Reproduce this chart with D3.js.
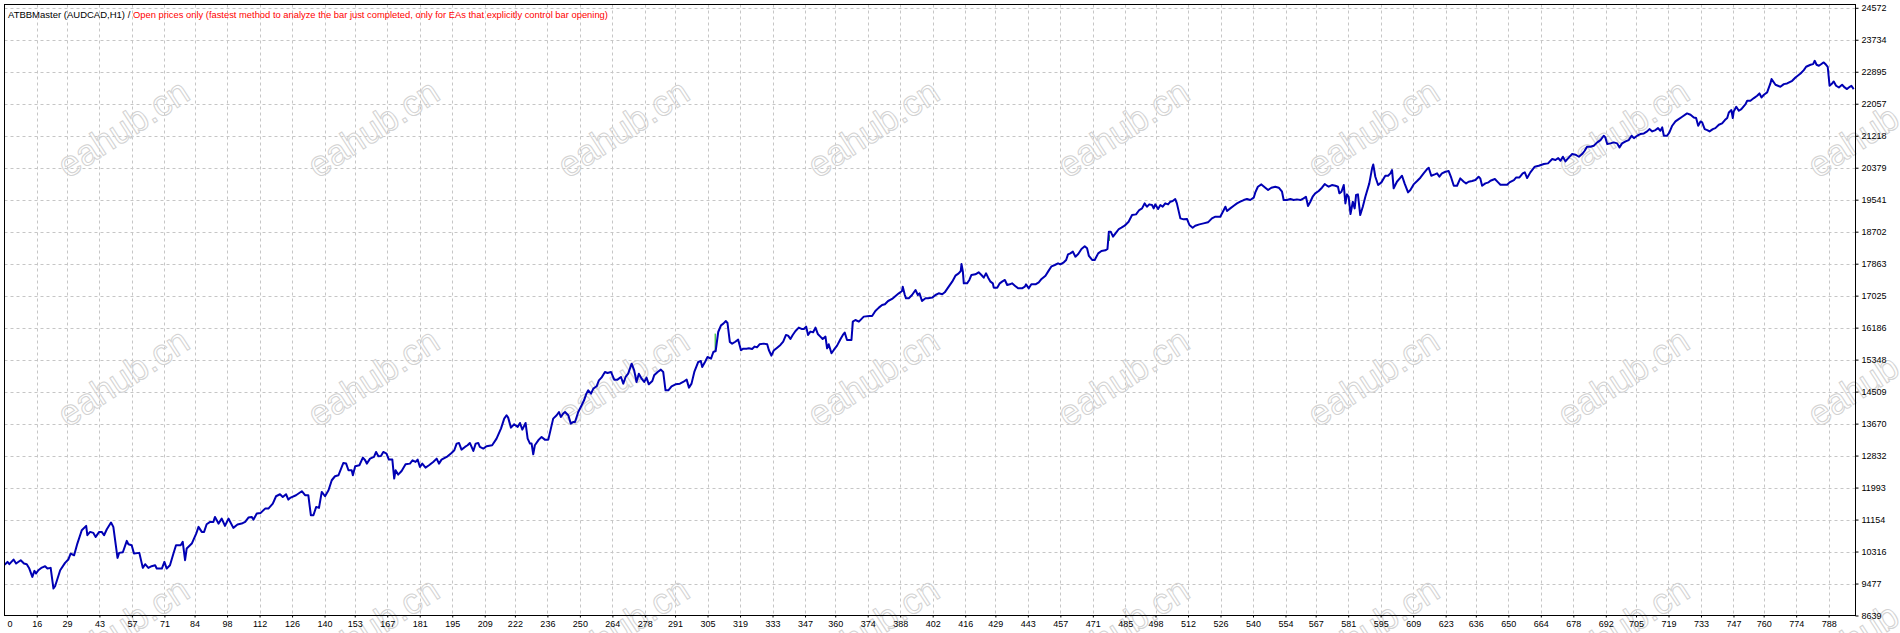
<!DOCTYPE html>
<html>
<head>
<meta charset="utf-8">
<script src="https://cdn.jsdelivr.net/npm/d3@7"></script>
<style>
html, body { margin: 0; padding: 0; background: #fff; }
svg { display: block; font-family: "Liberation Sans", Arial, sans-serif; }
</style>
</head>
<body>
<div id="chart"></div>
<script>
// header texts
var titleExpert = "ATBBMaster (AUDCAD,H1)";
var titleMode = "Open prices only (fastest method to analyze the bar just completed, only for EAs that explicitly control bar opening)";
var watermarkText = "eahub.cn";

// axis labels as printed by the tester
var xTickLabels = [0, 16, 29, 43, 57, 71, 84, 98, 112, 126, 140, 153, 167, 181, 195, 209, 222, 236, 250, 264,
    278, 291, 305, 319, 333, 347, 360, 374, 388, 402, 416, 429, 443, 457, 471, 485, 498, 512, 526, 540,
    554, 567, 581, 595, 609, 623, 636, 650, 664, 678, 692, 705, 719, 733, 747, 760, 774, 788];
var yTickLabels = [8639, 9477, 10316, 11154, 11993, 12832, 13670, 14509, 15348, 16186, 17025,
    17863, 18702, 19541, 20379, 21218, 22057, 22895, 23734, 24572];

// balance curve: [trade number, balance]
var balance = [
  [0,10000],[2.4,9984],[3.4,10045],[4.2,9984],[6,10106],[7.1,10001],[9.1,10088],[10.5,10001],[11.7,9984],
  [12.8,9870],[14.1,9652],[15,9809],[15.7,9739],[16.7,9826],[18.2,9896],[19.6,9931],[20.6,9870],[22,9888],
  [23.2,9346],[23.9,9407],[26.1,9826],[28.2,10019],[29.6,10106],[30.6,10263],[32.1,10219],[33.5,10525],
  [35.4,10875],[37.3,10988],[37.8,10744],[39,10831],[40.4,10805],[41.4,10700],[42.9,10831],[44,10831],
  [45,10744],[46.2,10901],[48,11075],[49,10962],[50.8,10150],[51.5,10281],[53.1,10298],[54.8,10595],
  [55.5,10508],[56.9,10482],[57.9,10263],[60.2,10281],[61.7,9888],[62.7,9984],[64.1,9888],[65.5,9931],
  [67,9957],[67.7,9870],[69.9,9870],[71,10045],[72,9870],[73.4,9957],[74.9,10263],[76,10482],[78,10482],
  [78.9,10569],[79.9,10088],[80.6,10394],[82.8,10525],[84.7,10787],[85.7,10962],[87.1,10831],[88.1,10831],
  [89.2,11032],[90.7,11093],[92.1,11093],[92.8,11224],[94.3,11049],[95.7,11180],[97.1,10988],[98.6,11180],
  [100.7,10936],[102.5,11023],[104.3,11049],[105.8,11093],[107.2,11207],[108.6,11224],[109.4,11154],
  [110.8,11311],[112.5,11329],[114.4,11442],[115.8,11442],[117.7,11573],[119.1,11766],[120.8,11818],
  [122,11748],[123.4,11818],[124.4,11678],[125.4,11731],[127.7,11792],[130.2,11897],[131.6,11792],
  [133,11792],[134.1,11268],[135.2,11268],[136.4,11486],[137.6,11460],[138.8,11879],[140.2,11766],
  [141.7,11923],[143.1,12185],[144.5,12290],[146,12316],[148.1,12639],[149.3,12622],[150.3,12447],
  [151.7,12447],[152.2,12316],[153.2,12552],[155,12578],[156.5,12779],[157.5,12709],[158.2,12622],
  [159.6,12753],[161.3,12796],[162.2,12927],[163.2,12814],
  [164.3,12822],[165.3,12927],[166.7,12884],[167.7,12726],[169.2,12726],[170,12228],[170.6,12447],
  [171.7,12333],[173.2,12429],[174.9,12604],[176.8,12621],[177.9,12709],[179.2,12665],[180.1,12726],
  [181.1,12534],[182.1,12621],[183.5,12517],[185,12578],[186.8,12665],[188.3,12752],[189.3,12621],
  [190.4,12726],[193,12814],[194.7,12901],[195.9,12971],[196.9,13146],[197.9,13163],[199,12988],
  [200.5,13058],[201.6,13102],[202.6,13163],[204.1,12953],[205.1,13146],[206.2,13163],[206.9,13058],
  [208.4,13015],[209.8,13076],[212.2,13102],[214.1,13277],[216,13539],[217.4,13801],[218.4,13888],
  [219.1,13827],[220.3,13565],[221.7,13652],[223.2,13582],[224.2,13687],[225.2,13513],[226.6,13687],
  [227.5,13277],[228.5,13146],[229.2,13146],[229.9,12866],[230.6,13102],[232.3,13250],[233.5,13320],
  [234.9,13250],[236.4,13250],[237.5,13539],[238.5,13801],[240,13888],[241,13975],[241.8,13844],
  [242.8,13932],[243.6,13975],[245,13888],[246.1,13670],[247.1,13713],[247.9,13713],[249.3,13975],
  [250.4,14106],[251.8,14281],[252.8,14456],[253.6,14543],[254.8,14456],[255.8,14587],[257.2,14648],
  [258.2,14805],[259.3,14875],[260.8,15024],[261.9,14997],[263.4,15024],[264.8,14823],[266.2,14823],
  [267.7,14893],[268.7,14718],[269.7,14893],[270.8,14980],[272.3,15242],[273.4,15067],[274.4,14762],
  [275.4,14980],[276.6,14849],[277.7,14762],[278.7,14875],[279.7,14700],[281.2,14788],[282,14936],
  [283.5,15024],[284.9,15085],[285.9,15024],[286.9,14543],[288.1,14543],[289.5,14648],[291.2,14700],
  [293.1,14718],[294.5,14762],[296,14823],[297,14613],[298.1,14718],[299.3,15024],[301,15286],
  [302.1,15312],[302.7,15155],[303.9,15286],[305,15417],[306.5,15373],[307.5,15548],[308.5,15574],
  [309.6,16072],[310.8,16247],[311.8,16290],[312.9,16360],[313.6,16308],[314.6,15810],[315.6,15766],
  [316.8,15810],[318.2,15871],[319.4,15592],[320.4,15635],[321.8,15635],
  [322.8,15645],[324.2,15628],[325.3,15689],[326.3,15671],[327.4,15750],[329.2,15767],[330.7,15750],
  [331.4,15601],[332.5,15453],[333.5,15584],[335,15662],[336.4,15732],[337.6,15820],[338.8,15994],
  [339.7,15977],[340.7,15890],[341.7,15994],[342.9,16099],[344.3,16187],[345.5,16152],[346.5,16152],
  [347.5,16213],[348.3,15994],[349.3,16082],[350.5,16064],[351.5,16187],[352.5,16021],[353.6,15951],
  [354.6,15890],[355.8,15951],[356.5,15645],[357.2,15750],[358.4,15514],[359.4,15601],[360.8,15715],
  [362.3,15890],[363.3,15994],[364.1,16056],[365.1,15863],[367,15863],[367.6,16344],[368.7,16387],
  [370.2,16344],[372.3,16475],[374.7,16492],[375.9,16492],[377.3,16623],[378.8,16711],[380.2,16781],
  [381.4,16798],[382.8,16885],[384.5,16938],[386,17016],[387.4,17086],[388.8,17147],[389.1,17261],
  [390,17042],[390.5,16955],[391.7,16955],[393.1,17042],[394.6,17174],[395.6,17042],[396.3,17086],
  [397.4,16885],[398.9,16955],[400,16955],[401.8,16973],[403.2,17042],[404.6,17086],[406.1,17060],
  [407.2,17112],[408.9,17261],[410.4,17392],[411.8,17549],[413.2,17610],[414.1,17671],[414.4,17855],
  [415,17654],[415.4,17348],[416.8,17348],[417.8,17436],[418.7,17567],[420.4,17584],[421.8,17637],
  [423,17567],[424,17497],[425,17610],[425.9,17497],[426.9,17392],[427.9,17348],[428.3,17235],
  [429.8,17235],[430.9,17348],[431.9,17392],[433.1,17436],[434.1,17305],[435.2,17322],[436.2,17348],
  [437.4,17287],[438.8,17217],[440.5,17217],[441.7,17261],[442.2,17322],[443.4,17217],[444.5,17322],
  [446.3,17322],[447.7,17375],[448.9,17462],[450.6,17549],[451.7,17654],[453.2,17794],[454.6,17829],
  [456,17872],[457,17846],[458.5,17899],[459.5,17960],[460.3,18108],[461.3,18134],[462.4,18178],
  [463.5,18047],[464.7,18117],[466.1,18248],[467.5,18318],[468.5,18265],[469.3,18065],[470.7,17960],
  [471.8,17960],[473.3,18134],[474.7,18196],[476.4,18213],[477.3,18248],[477.9,18702],[478.7,18702],
  [479.7,18571],[481,18676],[482.2,18772],
  [483.3,18807],[484.7,18859],[486.4,18964],[487.9,19139],[489.6,19156],[491,19270],[492.2,19313],
  [493.3,19444],[494.3,19357],[495.3,19418],[496.5,19401],[497.2,19313],[497.9,19418],[499.1,19296],
  [500.1,19401],[501.1,19357],[502.2,19444],[503.4,19418],[504.4,19488],[505.4,19506],[506.5,19558],
  [507.2,19444],[508.7,19051],[510.1,19025],[511.6,19034],[512.6,18877],[514,18807],[515.1,18859],
  [516.9,18894],[518.7,18920],[520.6,18947],[522.3,19051],[523.8,19095],[525.9,19095],[527.4,19270],
  [528.1,19357],[528.8,19244],[530.2,19313],[531.7,19383],[533.1,19444],[534.5,19488],[536,19532],
  [537.4,19558],[538.8,19532],[540.3,19593],[541,19733],[542.1,19881],[543.6,19942],[545.3,19855],
  [546.5,19794],[547.9,19855],[549.6,19881],[551.1,19855],[552.5,19750],[553.2,19532],[554.6,19532],
  [556.1,19558],[557.5,19532],[558.9,19549],[560.4,19532],[561.8,19576],[562.8,19619],[563.7,19375],
  [564.7,19488],[565.7,19619],[566.8,19707],[568.3,19768],[569.7,19855],[570.9,19951],[571.9,19907],
  [572.6,19881],[574,19925],[575.5,19907],[576.6,19881],[577.2,19707],[578.1,19750],[579.1,19925],
  [579.8,19444],[580.5,19680],[581.2,19619],[582,19165],[583,19488],[583.8,19313],[584.4,19663],
  [585.2,19680],[586.2,19139],[587.3,19357],[588.4,19619],[590.1,19969],[591.3,20362],[591.8,20466],
  [592.7,20143],[593.9,19925],[595.3,19995],[597,20170],[598.2,20170],[599.2,20231],[599.9,20318],
  [600.6,19838],[602,20012],[603.5,20117],[604.2,20170],[605.3,19969],[606.8,19733],[607.8,19794],
  [609.2,19942],[610.7,20030],[612.1,20117],[613.5,20231],[615,20344],[615.7,20379],[616.8,20170],
  [618.3,20205],[619.3,20231],[620.3,20143],[621.4,20231],[622.9,20274],[624.3,20292],[625.4,20117],
  [626.5,19907],[627.9,19907],[629.3,20100],[630.8,20012],[631.8,19969],[632.9,20012],[634.4,20030],
  [635.8,20056],[637.2,20143],[637.9,20100],[638.7,19907],[640.1,19969],[641.5,19995],
  [642.3,20038],[644.2,20082],[645.6,19995],[646.6,19934],[649.5,19934],[650.5,19995],[652.4,20056],
  [653.4,20126],[654.8,20126],[656.2,20231],[657.1,20257],[658.1,20108],[659.5,20257],[661.4,20405],
  [663.1,20431],[665.3,20475],[667.1,20493],[668.9,20606],[670.3,20580],[671.5,20632],[672.5,20562],
  [673.5,20667],[674.6,20545],[676.1,20650],[677.5,20737],[678.9,20720],[680.4,20667],[681.8,20737],
  [682.9,20824],[683.9,20929],[685.4,20929],[686.8,20956],[688.3,21043],[689.7,21104],[691.1,21218],
  [691.8,21174],[692.6,21000],[694,21017],[695.4,21043],[696.9,21017],[697.9,20912],[699,21017],
  [700.5,21069],[701.9,21104],[703.1,21218],[704.1,21156],[705.5,21218],[706.9,21261],[708.4,21279],
  [709.8,21331],[710.8,21392],[712,21331],[713.4,21366],[714.5,21418],[715.5,21349],[716.3,21436],
  [717,21218],[718.4,21218],[719.4,21305],[720.6,21480],[722,21593],[723.4,21654],[724.9,21715],
  [727,21803],[728.5,21768],[729.9,21698],[730.9,21681],[731.8,21480],[732.8,21593],[733.5,21567],
  [734.6,21392],[735.7,21366],[736.7,21331],[738.1,21392],[739.2,21418],[740.7,21506],[742.1,21541],
  [743.3,21628],[744.3,21681],[745,21829],[746.1,21890],[746.7,21681],[747.1,21855],[748.2,21977],
  [749.3,21873],[750.4,21916],[752.2,22047],[752.9,22135],[754.3,22135],[755.8,22205],[757.2,22266],
  [758.2,22327],[759.1,22222],[760.1,22292],[761.5,22353],[762.9,22589],[763.4,22703],[765.1,22554],
  [767.2,22502],[768.7,22571],[770.1,22589],[772.3,22659],[773.7,22746],[775.9,22851],[777.3,22938],
  [778.3,23026],[780.2,23078],[781.3,23096],[782,23183],[782.8,23078],[783.8,23052],[785.2,23113],
  [785.9,23139],[786.9,23078],[787.6,23026],[788.4,22528],[789.5,22589],[790.2,22641],[791.2,22528],
  [792.4,22484],[793.8,22554],[794.9,22484],[795.9,22441],[797.1,22502],[797.8,22528],[798.8,22441]
];

// places where the green equity line shows beside the balance: [trade, low, high]
var equityGaps = [[308.3, 15560, 16030], [367.4, 16190, 16340], [478.1, 18460, 18610]];

var W = 1900, H = 633;
var plot = {left: 4.5, top: 4.5, right: 1855.5, bottom: 615.5};

var x = d3.scaleLinear().domain([0, 800]).range([-0.4, 1856.5]);
var y = d3.scaleLinear().domain([8639, 24572]).range([615.5, 7.8]);

var svg = d3.select("#chart").append("svg")
    .attr("width", W)
    .attr("height", H);

svg.append("rect").attr("width", W).attr("height", H).attr("fill", "#fff");

svg.append("defs").append("clipPath").attr("id", "plotClip")
  .append("rect")
    .attr("x", plot.left).attr("y", plot.top)
    .attr("width", plot.right - plot.left).attr("height", plot.bottom - plot.top);

// grid
var grid = svg.append("g").attr("stroke", "#c6c6c6").attr("stroke-dasharray", "3,3").attr("stroke-width", 1);
grid.selectAll(".vg")
    .data(xTickLabels.filter(function(d) { return d > 0; }))
    .enter().append("line")
    .attr("x1", function(d) { return Math.round(x(d)) + 0.5; })
    .attr("x2", function(d) { return Math.round(x(d)) + 0.5; })
    .attr("y1", plot.top).attr("y2", plot.bottom);
grid.selectAll(".hg")
    .data(yTickLabels.filter(function(d) { return d > 8639; }))
    .enter().append("line")
    .attr("y1", function(d) { return Math.round(y(d)) + 0.5; })
    .attr("y2", function(d) { return Math.round(y(d)) + 0.5; })
    .attr("x1", plot.left).attr("x2", plot.right);

// watermark tiles
var marks = svg.append("g")
    .attr("fill", "none")
    .attr("stroke", "#d2d2d2")
    .attr("stroke-width", 1)
    .attr("font-size", "36px")
    .attr("font-family", "'Liberation Sans', Arial, sans-serif");
for (var r = 0; r < 3; r++) {
  for (var c = 0; c < 8; c++) {
    var cx = 123 + 250 * c, cy = 128 + 249 * r;
    marks.append("text")
        .attr("transform", "translate(" + cx + "," + cy + ") rotate(-33)")
        .attr("text-anchor", "middle")
        .attr("dy", "0.35em")
        .text(watermarkText);
  }
}

// equity and balance lines
var line = d3.line()
    .x(function(d) { return x(d[0]); })
    .y(function(d) { return y(d[1]); });

var curves = svg.append("g").attr("clip-path", "url(#plotClip)");
curves.selectAll(".eq")
    .data(equityGaps)
    .enter().append("line")
    .attr("x1", function(d) { return x(d[0]); })
    .attr("x2", function(d) { return x(d[0]); })
    .attr("y1", function(d) { return y(d[1]); })
    .attr("y2", function(d) { return y(d[2]); })
    .attr("stroke", "#00b400")
    .attr("stroke-width", 1);

curves.append("path")
    .datum(balance)
    .attr("d", line)
    .attr("fill", "none")
    .attr("stroke", "#0000b4")
    .attr("stroke-width", 2)
    .attr("stroke-linejoin", "round");

// frame
svg.append("rect")
    .attr("x", plot.left).attr("y", plot.top)
    .attr("width", plot.right - plot.left).attr("height", plot.bottom - plot.top)
    .attr("fill", "none").attr("stroke", "#000").attr("stroke-width", 1);

// axes
var xAxis = svg.append("g")
    .attr("transform", "translate(0," + plot.bottom + ")")
    .call(d3.axisBottom(x).tickValues(xTickLabels).tickSize(2).tickPadding(3).tickFormat(d3.format("d")));
var yAxis = svg.append("g")
    .attr("transform", "translate(" + plot.right + ",0)")
    .call(d3.axisRight(y).tickValues(yTickLabels).tickSize(3).tickPadding(3).tickFormat(d3.format("d")));

[xAxis, yAxis].forEach(function(a) {
  a.select(".domain").remove();
  a.attr("font-family", "'Liberation Sans', Arial, sans-serif").attr("font-size", "9px");
  a.selectAll("text").attr("fill", "#000");
  a.selectAll("line").attr("stroke", "#000");
});
// the first x label sits against the left frame
xAxis.selectAll(".tick").filter(function(d) { return d === 0; })
    .each(function() {
      d3.select(this).select("line").remove();
      d3.select(this).select("text").attr("text-anchor", "start").attr("x", plot.left + 2.5 - x(0));
    });

// header line
var title = svg.append("text")
    .attr("x", 8)
    .attr("y", 18)
    .attr("font-size", "9.5px");
title.append("tspan").attr("fill", "#000").text(titleExpert + " / ");
title.append("tspan").attr("fill", "#f00").attr("textLength", 475).attr("lengthAdjust", "spacingAndGlyphs").text(titleMode);
</script>
</body>
</html>
